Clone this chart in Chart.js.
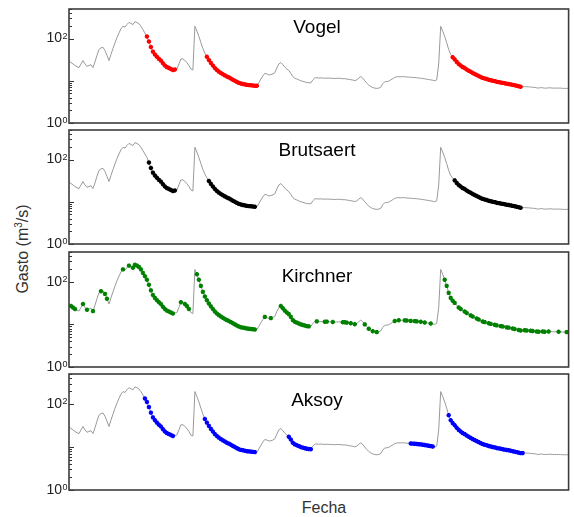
<!DOCTYPE html>
<html><head><meta charset="utf-8">
<script src="https://cdn.jsdelivr.net/npm/chart.js@4.4.1/dist/chart.umd.min.js"></script>
<style>
html,body{margin:0;padding:0;background:#fff;}
#wrap{position:relative;width:574px;height:517px;overflow:hidden;font-family:"Liberation Sans",Arial,sans-serif;}
#wrap canvas{position:absolute;left:0;}
.ytitle{position:absolute;left:23px;top:249px;transform:translate(-50%,-50%) rotate(-90deg);font-size:16px;color:#333;white-space:nowrap;}
.ytitle span{font-size:10px;position:relative;top:-6px;}
.xtitle{position:absolute;left:324px;top:508px;transform:translate(-50%,-50%);font-size:16px;color:#333;white-space:nowrap;}
</style></head><body>
<div id="wrap">
<div class="ytitle">Gasto (m<span>3</span>/s)</div>
<div class="xtitle">Fecha</div>
</div>
<script>
// ---------- DATA ----------
// daily discharge (m3/s), day 0..250
const flow = [
 29, 27, 25, 23, 21.5, 20.5, 25, 30, 25, 22,
 23, 24, 20.5, 28, 40, 55, 60, 62, 52, 40,
 30, 42, 58, 79, 105, 135, 170, 195, 186, 215,
 240, 228, 214, 251, 240, 224, 195, 162, 135, 112,
 85, 63, 49, 42, 37, 33, 30, 26, 23, 21,
 20, 19, 18, 18.5, 19, 25, 33, 33, 30, 27,
 23, 19, 18, 195, 150, 112, 80, 58, 45, 37,
 31, 26.5, 23, 20, 18, 16.5, 15.3, 14.3, 13.4, 12.6,
 12, 11.3, 10.6, 10, 9.4, 8.9, 8.6, 8.4, 8.2, 8.0,
 7.9, 7.8, 7.7, 7.6, 7.6, 9, 11, 13, 15, 14.5,
 13.8, 14, 14.5, 15.5, 20, 25, 27, 24, 21, 19,
 17.4, 15, 12.6, 11.5, 11, 10.5, 10, 9.7, 9.4, 9.1,
 9, 8.9, 10.5, 11.7, 11.8, 11.6, 11.7, 11.6, 11.5, 11.6,
 11.5, 11.5, 11.4, 11.3, 11.4, 11.5, 11.3, 11.2, 11.2, 11.0,
 10.8, 10.6, 10.4, 10.1, 10.5, 11.5, 12.6, 11.5, 10, 8.8,
 7.9, 7.3, 6.9, 6.7, 6.6, 6.7, 7, 8.5, 9.5, 9.6,
 9.8, 10.5, 11.2, 12, 12.4, 12.5, 12.4, 12.6, 12.4, 12.3,
 12.2, 12.1, 12.0, 11.9, 11.8, 11.6, 11.5, 11.3, 11.1, 10.9,
 10.7, 10.5, 10.3, 10, 10.5, 25, 195, 150, 112, 80,
 55, 42, 36, 32, 28, 25, 23, 21, 20, 18.5,
 17.3, 16.3, 15.3, 14.5, 13.7, 13, 12.3, 11.7, 11.3, 11,
 10.6, 10.3, 10, 9.8, 9.5, 9.3, 9.1, 8.9, 8.7, 8.5,
 8.4, 8.2, 8.0, 7.8, 7.6, 7.4, 7.2, 7.2, 7.3, 7.2,
 7.2, 7.1, 7.0, 7.0, 6.8, 6.7, 6.9, 6.8, 6.7, 6.7,
 6.8, 6.8, 6.7, 6.7, 6.7, 6.7, 6.7, 6.6, 6.6, 6.6, 6.6
];
const panelNames = ['Vogel', 'Brutsaert', 'Kirchner', 'Aksoy'];
const markerColors = ['#ff0000', '#000000', '#008000', '#0000ff'];
// recession periods picked by each method (day ranges, inclusive)
const vogelRanges = [[39, 53], [69, 94], [192, 226]];
const brutsaertRanges = [[40, 53], [70, 93], [193, 226]];
const aksoyRanges = [[38, 52], [68, 93], [110, 121], [171, 182], [190, 227]];
// Kirchner picked days
const kirchnerDays = [1, 2, 3, 7, 9, 12, 16, 18, 19, 27, 30, 32, 33, 34, 35, 36, 37, 38, 39, 40, 41, 42, 43, 44, 45, 46, 47, 48, 49, 50, 51, 52,
 56, 58, 59, 60, 64, 65, 66, 67, 68, 69, 70, 71, 72, 73, 74, 75, 76, 77, 78, 79, 80, 81, 82, 83, 84, 85, 86, 87, 88, 89, 90, 91, 92, 93,
 98, 101, 106, 107, 108, 109, 110, 111, 112, 113, 114, 115, 116, 117, 118, 119, 120,
 124, 128, 129, 132, 137, 138, 139, 141, 143, 148, 150, 152, 154,
 163, 165, 168, 169, 171, 173, 174, 176, 178, 181,
 188, 189, 190, 191, 192, 193, 195, 196, 198, 199, 201, 202, 204, 205, 207, 208, 210, 211, 213, 214, 216, 217, 219, 220,
 222, 223, 225, 226, 228, 229, 231, 232, 234, 235, 237, 238, 240, 245, 249];
const yLabelValues = [1, 100];
const yLabelExponents = ['0', '2'];
const majorTicks = [1, 10, 100];
const minorTicks = [2, 3, 4, 5, 6, 7, 8, 9, 200, 300, 400, 500];

// ---------- LAYOUT ----------
const panelTops = [9, 130, 252, 374];
const panelHeights = [114, 114, 115, 116];
const titleBaselines = [24, 26, 30, 32];
const PAD = 14;

function daysFromRanges(r) { const out = []; r.forEach(([a, b]) => { for (let d = a; d <= b; d++) out.push(d); }); return out; }
const pickedDays = [daysFromRanges(vogelRanges), daysFromRanges(brutsaertRanges), kirchnerDays, daysFromRanges(aksoyRanges)];
const linePts = flow.map((v, i) => ({x: i, y: v}));

function panelPlugin(i) {
  return {
    id: 'panel' + i,
    afterDraw(chart) {
      const {ctx, chartArea: a, scales: {y}} = chart;
      ctx.save();
      ctx.strokeStyle = '#333'; ctx.lineWidth = 1;
      ctx.beginPath();
      majorTicks.forEach(v => { const py = Math.round(y.getPixelForValue(v)) + 0.5; ctx.moveTo(a.left, py); ctx.lineTo(a.left + 5, py); });
      minorTicks.forEach(v => { const py = Math.round(y.getPixelForValue(v)) + 0.5; ctx.moveTo(a.left, py); ctx.lineTo(a.left + 3, py); });
      ctx.stroke();
      ctx.strokeStyle = '#3c3c3c'; ctx.lineWidth = 1.6;
      ctx.strokeRect(a.left, a.top, a.right - a.left, a.bottom - a.top);
      ctx.fillStyle = '#222';
      yLabelValues.forEach((v, k) => {
        const py = y.getPixelForValue(v);
        ctx.font = '14px "Liberation Sans", Arial, sans-serif';
        ctx.textAlign = 'right'; ctx.textBaseline = 'middle';
        ctx.fillText('10', a.left - 7, py);
        ctx.font = '9px "Liberation Sans", Arial, sans-serif';
        ctx.textAlign = 'left'; ctx.textBaseline = 'top';
        ctx.fillText(yLabelExponents[k], a.left - 6.5, py - 7);
      });
      ctx.font = '19px "Liberation Sans", Arial, sans-serif';
      ctx.fillStyle = '#000'; ctx.textAlign = 'center'; ctx.textBaseline = 'alphabetic';
      ctx.fillText(panelNames[i], 317, a.top + titleBaselines[i]);
      ctx.restore();
    }
  };
}

const wrap = document.getElementById('wrap');
for (let i = 0; i < 4; i++) {
  const cv = document.createElement('canvas');
  const H = panelHeights[i] + 2 * PAD;
  cv.width = 574; cv.height = H;
  cv.style.top = (panelTops[i] - PAD) + 'px';
  cv.style.width = '574px'; cv.style.height = H + 'px';
  wrap.appendChild(cv);
  new Chart(cv, {
    type: 'line',
    data: {
      datasets: [
        {data: pickedDays[i].map(d => ({x: d, y: flow[d]})), showLine: false, pointStyle: 'star', pointRadius: 2.2,
         borderColor: markerColors[i], backgroundColor: markerColors[i], pointBorderWidth: 1.4, order: 0},
        {data: linePts, borderColor: '#999999', borderWidth: 1, pointRadius: 0, tension: 0, order: 1}
      ]
    },
    options: {
      responsive: false, animation: false, events: [],
      layout: {padding: {top: PAD, bottom: PAD, left: 0, right: 1}},
      plugins: {legend: {display: false}, tooltip: {enabled: false}, title: {display: false}},
      scales: {
        x: {type: 'linear', min: 0, max: 250, display: false},
        y: {type: 'logarithmic', min: 1, max: 500,
            afterFit(s) { s.width = 69; },
            grid: {display: false, drawTicks: false}, border: {display: false}, ticks: {display: false}}
      }
    },
    plugins: [panelPlugin(i)]
  });
}
</script>
</body></html>
